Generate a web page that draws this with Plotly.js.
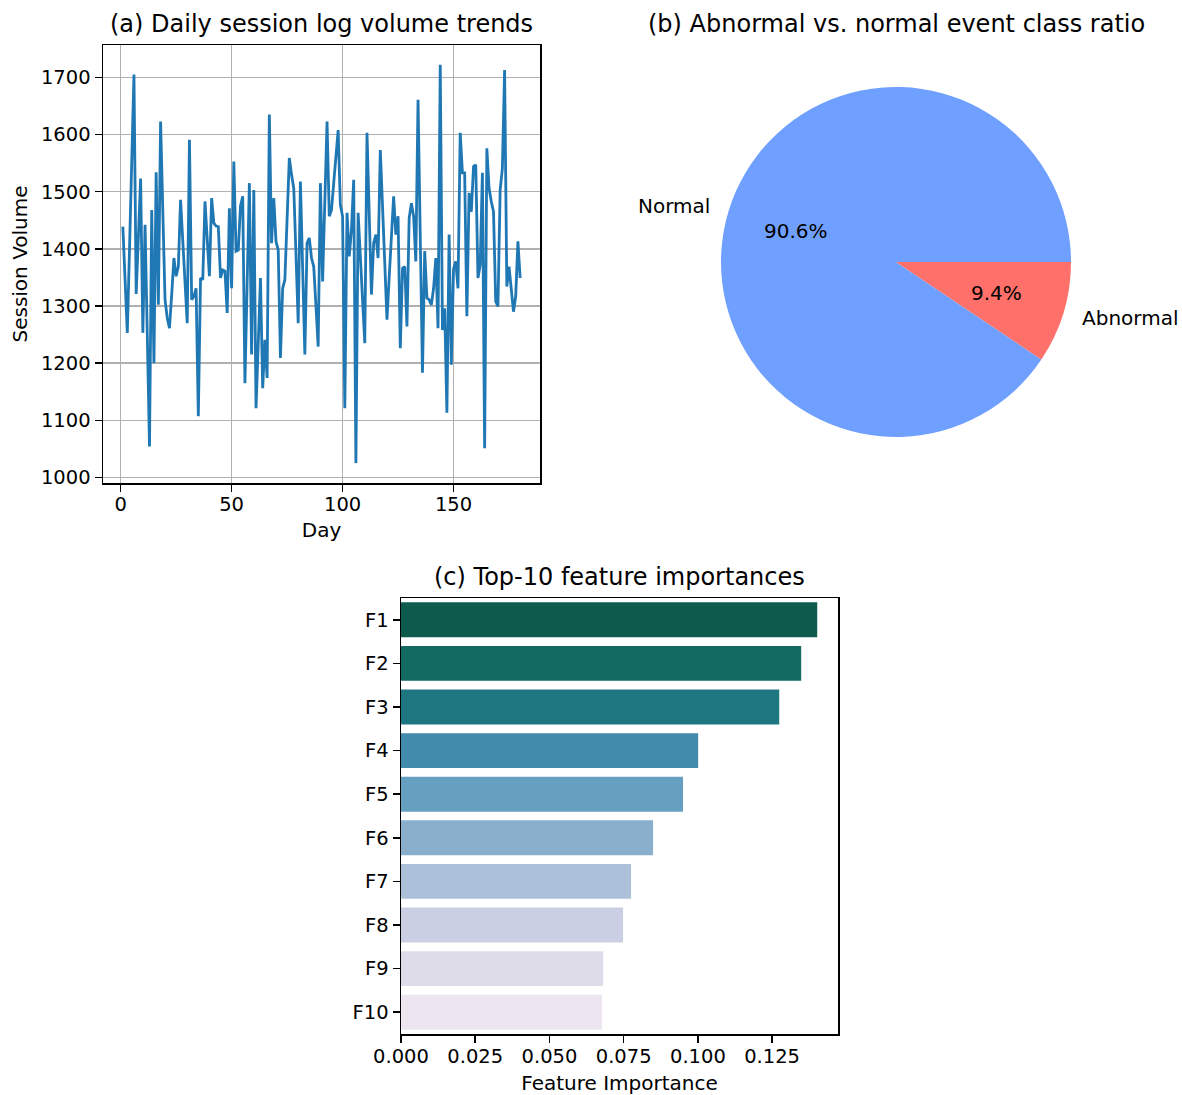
<!DOCTYPE html>
<html>
<head>
<meta charset="utf-8">
<script src="https://cdn.plot.ly/plotly-3.0.1.min.js"></script>
<style>html,body{margin:0;padding:0;background:#fff;}#chart{width:1182px;height:1095px;}</style>
</head>
<body>
<div id="chart"></div>
<script>
// ---- Data ----
const sessionVolume = [
1439,1346,1253,1400,1550,1705,1321,1420,1523,1253,
1442,1250,1054,1468,1200,1534,1302,1623,1467,1311,
1279,1261,1320,1384,1352,1369,1486,1415,1345,1270,
1591,1311,1317,1331,1107,1349,1346,1483,1417,1352,
1489,1445,1440,1439,1349,1363,1361,1288,1471,1331,
1553,1396,1398,1475,1492,1165,1340,1515,1215,1503,
1121,1235,1349,1156,1241,1174,1635,1410,1489,1413,
1398,1209,1331,1346,1450,1559,1530,1506,1390,1270,
1518,1370,1215,1410,1419,1384,1369,1300,1229,1515,
1343,1483,1623,1457,1468,1515,1560,1608,1477,1457,
1121,1463,1387,1433,1521,1025,1463,1387,1311,1235,
1603,1460,1320,1410,1425,1384,1573,1475,1375,1276,
1350,1420,1492,1425,1457,1226,1366,1369,1264,1454,
1480,1457,1378,1661,1384,1183,1396,1314,1311,1302,
1331,1384,1261,1722,1258,1296,1113,1425,1197,1365,
1378,1331,1603,1533,1533,1282,1498,1465,1544,1547,
1349,1372,1533,1051,1576,1506,1483,1465,1308,1299,
1503,1541,1713,1334,1369,1331,1290,1317,1413,1349
];
const days = sessionVolume.map((v, i) => i + 1);

const classLabels = ["Normal", "Abnormal"];
const classShares = [90.6, 9.4];

const featureNames = ["F1","F2","F3","F4","F5","F6","F7","F8","F9","F10"];
const featureImportance = [0.1402,0.1348,0.1274,0.1001,0.0950,0.0849,0.0775,0.0748,0.0681,0.0677];

// ---- Styles ----
const W = 1182, H = 1095;
const px = x => x / W;
const py = y => 1 - y / H;
const FONT = "DejaVu Sans, Liberation Sans, sans-serif";
const featureColors = ["#0e5a4d","#126a62","#1e7681","#438bad","#65a0c1","#8aafcc","#adc0d9","#cbcfe3","#dfdcea","#ede6f0"];
const pieColors = ["#70a0ff", "#ff706a"];
const TICK = 19.5, LABEL = 20, TITLE = 24;

const axisCommon = {
  showline: true, mirror: true, linecolor: "#000", linewidth: 1.5,
  ticks: "outside", ticklen: 7, tickwidth: 1.5, tickcolor: "#000",
  tickfont: {family: FONT, size: TICK, color: "#000"},
  zeroline: false
};

// pie geometry (pixels)
const pieCx = 896, pieCy = 262, pieR = 175;
const pieTotal = classShares.reduce((a, b) => a + b, 0);
// first slice starts at 3 o'clock and runs counter-clockwise (matplotlib default)
const pieRotation = 90 + 360 * classShares[classShares.length - 1] / pieTotal;

const traces = [
  {
    type: "scatter", mode: "lines", x: days, y: sessionVolume,
    line: {color: "#1f77b4", width: 2.8}, xaxis: "x", yaxis: "y",
    hoverinfo: "x+y"
  },
  {
    type: "pie", labels: classLabels, values: classShares, sort: false,
    direction: "clockwise", rotation: pieRotation,
    marker: {colors: pieColors, line: {width: 0}},
    textinfo: "none", showlegend: false,
    domain: {x: [px(pieCx - pieR), px(pieCx + pieR)], y: [py(pieCy + pieR), py(pieCy - pieR)]}
  },
  {
    type: "bar", orientation: "h", x: featureImportance, y: featureNames,
    marker: {color: featureColors, line: {width: 0}}, width: 0.8,
    xaxis: "x2", yaxis: "y2"
  }
];

// pie annotations computed from the data (labels at 1.1 R, pct at 0.6 R)
const annotations = [];
let start = 0;
classShares.forEach((v, i) => {
  const frac = v / pieTotal;
  const mid = (start + frac / 2) * 2 * Math.PI;
  start += frac;
  const c = Math.cos(mid), s = Math.sin(mid);
  const lx = pieCx + 1.1 * pieR * c, ly = pieCy - 1.1 * pieR * s;
  const tx = pieCx + 0.6 * pieR * c, ty = pieCy - 0.6 * pieR * s;
  annotations.push({
    xref: "paper", yref: "paper", x: px(lx), y: py(ly),
    text: classLabels[i], showarrow: false,
    xanchor: c < 0 ? "right" : "left", yanchor: "middle",
    font: {family: FONT, size: LABEL, color: "#000"}
  });
  annotations.push({
    xref: "paper", yref: "paper", x: px(tx), y: py(ty),
    text: (frac * 100).toFixed(1) + "%", showarrow: false,
    xanchor: "center", yanchor: "middle",
    font: {family: FONT, size: LABEL, color: "#000"}
  });
});

// subplot titles
const titleFont = {family: FONT, size: TITLE, color: "#000"};
annotations.push({xref: "paper", yref: "paper", x: px(321.5), y: py(24), xanchor: "center", yanchor: "middle",
  text: "(a) Daily session log volume trends", showarrow: false, font: titleFont});
annotations.push({xref: "paper", yref: "paper", x: px(896), y: py(24), xanchor: "center", yanchor: "middle",
  text: "(b) Abnormal vs. normal event class ratio", showarrow: false, font: titleFont});
annotations.push({xref: "paper", yref: "paper", x: px(619.5), y: py(577), xanchor: "center", yanchor: "middle",
  text: "(c) Top-10 feature importances", showarrow: false, font: titleFont});

const layout = {
  width: W, height: H, autosize: false,
  margin: {l: 0, r: 0, t: 0, b: 0, pad: 0},
  paper_bgcolor: "#fff", plot_bgcolor: "#fff",
  showlegend: false,
  font: {family: FONT, color: "#000"},
  xaxis: Object.assign({}, axisCommon, {
    domain: [px(103), px(540)], anchor: "y",
    range: [-7.95, 188.95], tickvals: [0, 50, 100, 150],
    ticklabelstandoff: -4,
    showgrid: true, gridcolor: "#b0b0b0", gridwidth: 1.5,
    title: {text: "Day", font: {family: FONT, size: LABEL, color: "#000"}, standoff: 8}
  }),
  yaxis: Object.assign({}, axisCommon, {
    domain: [py(483), py(45)], anchor: "x",
    range: [990.2, 1756.8], tickvals: [1000,1100,1200,1300,1400,1500,1600,1700],
    showgrid: true, gridcolor: "#b0b0b0", gridwidth: 1.5,
    title: {text: "Session Volume", font: {family: FONT, size: LABEL, color: "#000"}, standoff: 8}
  }),
  xaxis2: Object.assign({}, axisCommon, {
    domain: [px(401), px(838)], anchor: "y2",
    range: [0, 0.1472], tickvals: [0, 0.025, 0.05, 0.075, 0.1, 0.125], tickformat: ".3f",
    ticklabelstandoff: -3,
    showgrid: false,
    title: {text: "Feature Importance", font: {family: FONT, size: LABEL, color: "#000"}, standoff: 11}
  }),
  yaxis2: Object.assign({}, axisCommon, {
    domain: [py(1034), py(598)], anchor: "x2",
    type: "category", categoryorder: "array", categoryarray: featureNames,
    range: [9.5, -0.5], showgrid: false
  }),
  annotations: annotations
};

Plotly.newPlot("chart", traces, layout, {displayModeBar: false, staticPlot: true});
</script>
</body>
</html>
